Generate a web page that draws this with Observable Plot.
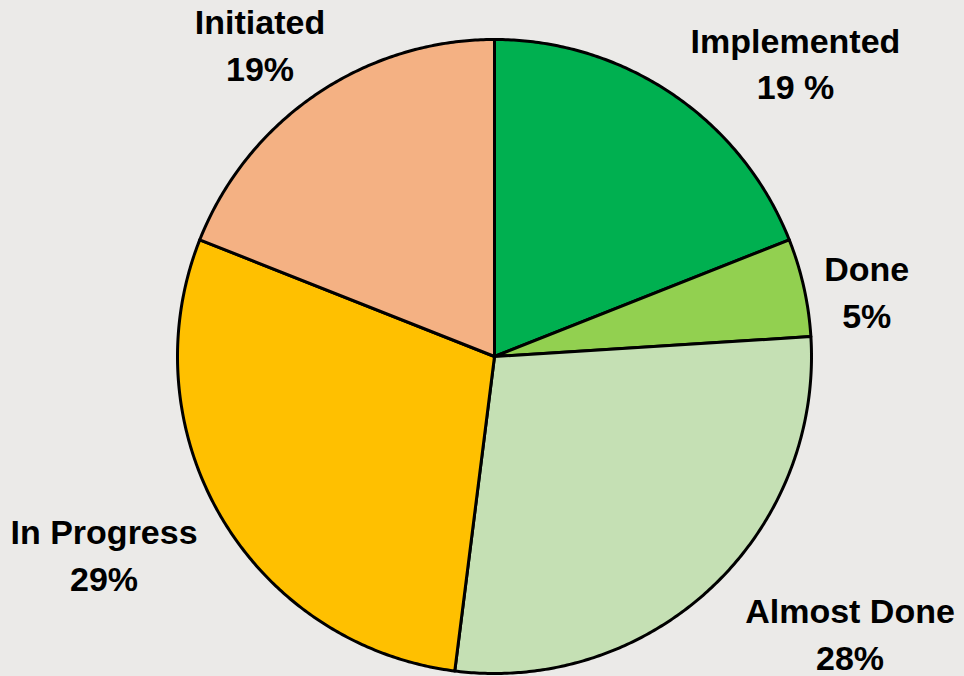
<!DOCTYPE html>
<html>
<head>
<meta charset="utf-8">
<script src="https://cdn.jsdelivr.net/npm/d3@7"></script>
<script src="https://cdn.jsdelivr.net/npm/@observablehq/plot@0.6"></script>
<style>
  html, body { margin: 0; padding: 0; background: #ebeae8; }
  #chart svg { display: block; }
</style>
</head>
<body>
<div id="chart"></div>
<script>
// ---- data ----
const statuses = ["Implemented", "Done", "Almost Done", "In Progress", "Initiated"];
const shares = [19, 5, 28, 29, 19];
const shareLabels = ["19 %", "5%", "28%", "29%", "19%"];
const colors = ["#00b050", "#92d050", "#c5e0b4", "#ffc000", "#f4b183"];

// ---- layout ----
const W = 964, H = 676;
const cx = 494, cy = 356, R = 317;           // pie centre and radius (px)
const fontSize = 34, lineGap = 1.38;
const font = `bold ${fontSize}px "Liberation Sans", Arial, sans-serif`;

// pie angles (clockwise from 12 o'clock)
const pie = d3.pie().sort(null).value(d => d.value)(
  statuses.map((s, i) => ({status: s, value: shares[i], label: shareLabels[i]}))
);

// polygon points for each slice, in radius units
const points = [];
pie.forEach(p => {
  const s = p.data.status;
  points.push({status: s, x: 0, y: 0});
  const n = Math.max(2, Math.ceil((p.endAngle - p.startAngle) / (Math.PI / 360)));
  for (let k = 0; k <= n; k++) {
    const a = p.startAngle + (p.endAngle - p.startAngle) * k / n;
    points.push({status: s, x: Math.sin(a), y: Math.cos(a)});
  }
  points.push({status: s, x: 0, y: 0});
});

// label anchors: outside the pie along each slice's middle angle,
// pushed outward until the text block clears the circle
const ctx = document.createElement("canvas").getContext("2d");
ctx.font = font;
const labels = pie.map(p => {
  const a = (p.startAngle + p.endAngle) / 2;
  const ux = Math.sin(a), sy = -Math.cos(a);      // screen direction (y down)
  const wpx = Math.max(ctx.measureText(p.data.status).width, ctx.measureText(p.data.label).width);
  const hpx = fontSize * (1 + lineGap);
  const hw = wpx / 2, hh = (0.716 * fontSize + lineGap * fontSize) / 2;
  const r0 = 0.87, k = 1.05, shiftX = 16, shiftY = 12, gap = 8;
  let X = r0 * R * ux + ux * wpx * k + shiftX;
  let Y = r0 * R * sy + sy * hpx * k + shiftY;
  const clear = () => Math.hypot(Math.max(Math.abs(X) - hw, 0), Math.max(Math.abs(Y) - hh, 0));
  let guard = 0;
  while (clear() < R + gap && guard++ < 200) { X += ux; Y += sy; }
  return {text: p.data.status + "\n" + p.data.label, x: X / R, y: -Y / R};
});

const chart = Plot.plot({
  width: W,
  height: H,
  margin: 0,
  style: {background: "#ebeae8"},
  x: {domain: [(0 - cx) / R, (W - cx) / R], axis: null},
  y: {domain: [(cy - H) / R, cy / R], axis: null},
  color: {domain: statuses, range: colors},
  marks: [
    Plot.line(points, {
      x: "x", y: "y", z: "status", fill: "status",
      stroke: "black", strokeWidth: 3, strokeLinejoin: "round"
    }),
    Plot.text(labels, {
      x: "x", y: "y", text: "text",
      fontSize, fontWeight: "bold", fontFamily: '"Liberation Sans", Arial, sans-serif',
      lineHeight: lineGap, fill: "black", textAnchor: "middle"
    })
  ]
});
document.getElementById("chart").append(chart);
</script>
</body>
</html>
